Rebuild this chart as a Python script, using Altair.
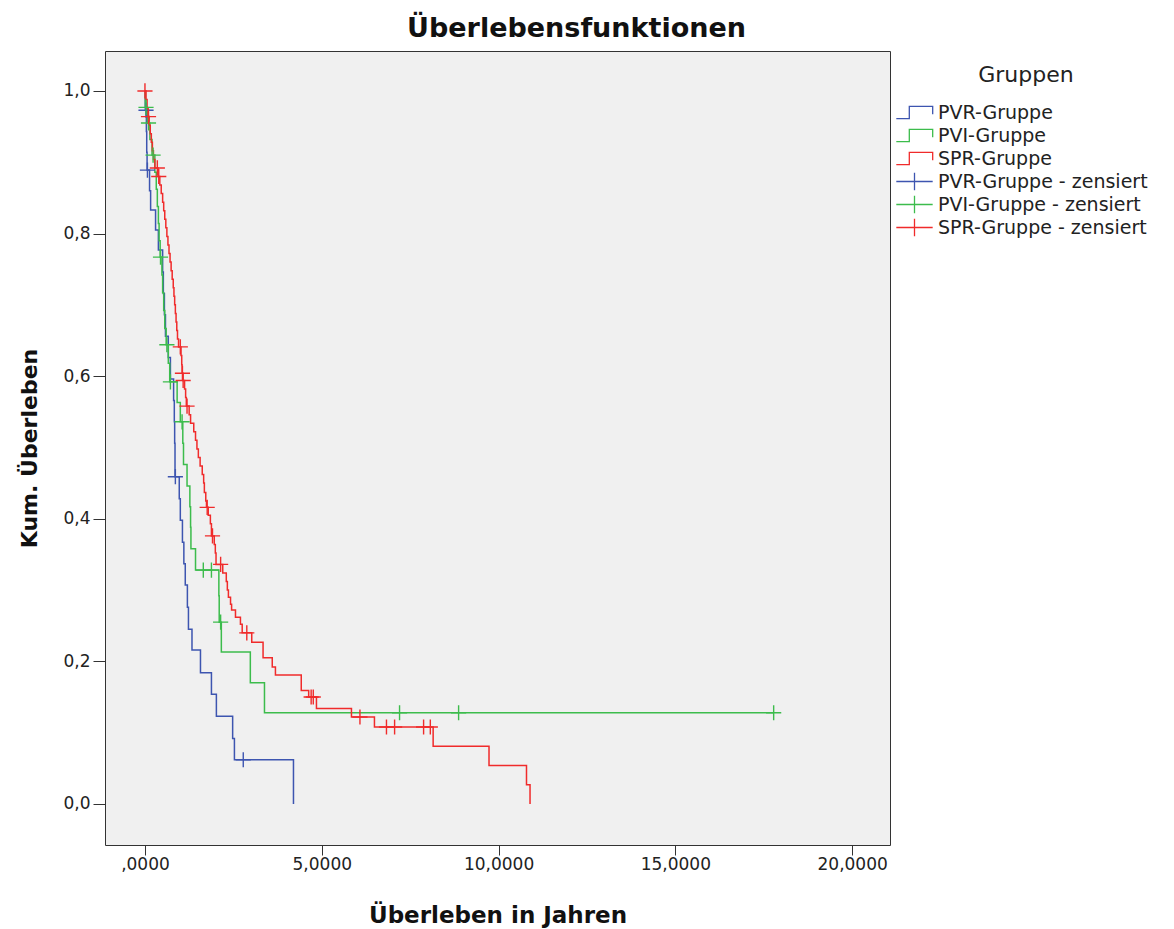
import altair as alt
import pandas as pd

groups = ["PVR-Gruppe", "PVI-Gruppe", "SPR-Gruppe"]
cens_names = ["PVR-Gruppe - zensiert", "PVI-Gruppe - zensiert", "SPR-Gruppe - zensiert"]
colors = ["#3d55b0", "#3cbc4c", "#f02b2b"]

# Kaplan-Meier step curves (time in years, cumulative survival after each drop)
pvr_t = [0.00, 0.01, 0.04, 0.05, 0.06, 0.13, 0.16, 0.30, 0.38, 0.50, 0.52, 0.55, 0.58, 0.66, 0.72,
         0.81, 0.83, 0.84, 0.85, 0.97, 1.00, 1.06, 1.10, 1.14, 1.20, 1.23, 1.33, 1.57, 1.88, 2.02,
         2.48, 2.53, 4.20]
pvr_s = [1.000, 0.973, 0.943, 0.914, 0.889, 0.860, 0.833, 0.805, 0.777, 0.746, 0.716, 0.686, 0.656,
         0.626, 0.596, 0.566, 0.536, 0.506, 0.459, 0.428, 0.398, 0.367, 0.337, 0.307, 0.276, 0.245,
         0.216, 0.184, 0.154, 0.123, 0.092, 0.062, 0.000]
pvr_ct = [0.03, 0.07, 0.86, 2.78]
pvr_cs = [0.973, 0.889, 0.459, 0.062]

pvi_t = [0.00, 0.01, 0.07, 0.14, 0.20, 0.28, 0.32, 0.35, 0.38, 0.40, 0.43, 0.48, 0.50, 0.53, 0.56,
         0.60, 0.66, 0.70, 0.91, 1.00, 1.07, 1.09, 1.19, 1.27, 1.29, 1.30, 1.43, 2.09, 2.10, 2.16,
         2.98, 3.38, 17.78]
pvi_s = [1.000, 0.977, 0.955, 0.932, 0.910, 0.886, 0.862, 0.838, 0.814, 0.790, 0.767, 0.742, 0.717,
         0.692, 0.667, 0.644, 0.618, 0.592, 0.563, 0.536, 0.506, 0.476, 0.446, 0.417, 0.388, 0.358,
         0.328, 0.292, 0.255, 0.213, 0.170, 0.128, 0.128]
pvi_ct = [0.03, 0.10, 0.23, 0.44, 0.62, 0.72, 1.05, 1.65, 1.88, 2.14, 7.20, 8.87, 17.78]
pvi_cs = [0.977, 0.955, 0.910, 0.767, 0.644, 0.592, 0.536, 0.328, 0.328, 0.255, 0.128, 0.128, 0.128]

spr_t = [0.00, 0.03, 0.06, 0.09, 0.12, 0.15, 0.18, 0.21, 0.24, 0.28, 0.37, 0.42, 0.46, 0.50, 0.53,
         0.56, 0.59, 0.62, 0.65, 0.68, 0.71, 0.74, 0.77, 0.80, 0.82, 0.84, 0.86, 0.88, 0.90, 0.92,
         0.95, 1.02, 1.04, 1.05, 1.07, 1.12, 1.15, 1.17, 1.25, 1.29, 1.38, 1.43, 1.47, 1.51, 1.56,
         1.62, 1.66, 1.68, 1.72, 1.74, 1.79, 1.85, 1.88, 1.96, 1.99, 2.01, 2.20, 2.30, 2.33, 2.36,
         2.42, 2.45, 2.56, 2.70, 2.75, 3.02, 3.34, 3.60, 3.69, 4.42, 4.63, 4.85, 5.84, 6.49, 8.15,
         9.73, 10.79, 10.89]
spr_s = [1.000, 0.988, 0.976, 0.964, 0.952, 0.940, 0.928, 0.916, 0.904, 0.892, 0.880, 0.868, 0.856,
         0.844, 0.832, 0.820, 0.808, 0.796, 0.784, 0.772, 0.760, 0.748, 0.736, 0.724, 0.712, 0.700,
         0.688, 0.676, 0.664, 0.652, 0.641, 0.629, 0.616, 0.604, 0.594, 0.582, 0.570, 0.558, 0.546,
         0.534, 0.522, 0.510, 0.498, 0.486, 0.474, 0.462, 0.450, 0.437, 0.425, 0.416, 0.405, 0.393,
         0.376, 0.364, 0.352, 0.336, 0.324, 0.312, 0.300, 0.290, 0.280, 0.272, 0.262, 0.252, 0.240,
         0.227, 0.205, 0.192, 0.181, 0.159, 0.150, 0.134, 0.122, 0.108, 0.081, 0.054, 0.027, 0.000]
spr_ct = [0.00, 0.10, 0.35, 0.39, 1.00, 1.06, 1.08, 1.19, 1.76, 1.91, 2.14, 2.88, 4.70, 4.76, 6.08,
          6.83, 7.06, 7.88, 8.07]
spr_cs = [1.000, 0.964, 0.892, 0.880, 0.641, 0.604, 0.594, 0.558, 0.416, 0.376, 0.336, 0.240, 0.150,
          0.150, 0.122, 0.108, 0.108, 0.108, 0.108]

x_ticks = [0, 5, 10, 15, 20]
y_ticks = [0.0, 0.2, 0.4, 0.6, 0.8, 1.0]

curves = [(pvr_t, pvr_s), (pvi_t, pvi_s), (spr_t, spr_s)]
cens = [(pvr_ct, pvr_cs), (pvi_ct, pvi_cs), (spr_ct, spr_cs)]

line_rows = []
for g, (ts, ss) in zip(groups, curves):
    for i, (t, s) in enumerate(zip(ts, ss)):
        line_rows.append({"t": t, "s": s, "grp": g, "i": i})
line_df = pd.DataFrame(line_rows)

cens_rows = []
for g, (ts, ss) in zip(cens_names, cens):
    for t, s in zip(ts, ss):
        cens_rows.append({"t": t, "s": s, "grp": g})
cens_df = pd.DataFrame(cens_rows)

domain = groups + cens_names
rng = colors + colors
# legend glyphs: step line and censor cross (degenerate segments keep row heights equal)
step_glyph = "M-2.1,0.7H-0.6V-0.7H2.1V0.2M2.1,-1.0L2.1,-1.0M2.1,1.0L2.1,1.0"
plus_glyph = "M-2.1,0H2.1M0,-1.0V1.0"
shape_rng = [step_glyph] * 3 + [plus_glyph] * 3

x_scale = alt.Scale(domain=[-1.13, 21.07], nice=False, zero=False)
y_scale = alt.Scale(domain=[-0.0575, 1.056], nice=False, zero=False)
c_scale = alt.Scale(domain=domain, range=rng)

x_axis = alt.Axis(title="Überleben in Jahren", values=x_ticks, grid=False, domain=False,
                  labelExpr="datum.value == 0 ? ',0000' : replace(format(datum.value, '.4f'), '.', ',')",
                  tickSize=10, tickColor="#333", labelFontSize=17, labelPadding=1,
                  labelFont="DejaVu Sans", titleFont="DejaVu Sans",
                  titleFontSize=23, titleFontWeight="bold", titlePadding=32, labelColor="#222",
                  titleColor="#111")
y_axis = alt.Axis(title="Kum. Überleben", values=y_ticks, grid=False, domain=False,
                  labelExpr="replace(format(datum.value, '.1f'), '.', ',')",
                  tickSize=12, tickColor="#333", labelFontSize=17, labelPadding=3,
                  labelFont="DejaVu Sans", titleFont="DejaVu Sans",
                  titleFontSize=22, titleFontWeight="bold", titleX=-64, labelColor="#222",
                  titleColor="#111")

legend = alt.Legend(title="Gruppen", orient="none", legendX=800, legendY=14,
                    symbolOpacity=1, symbolSize=300,
                    labelFontSize=19, titleFontSize=22, titleFontWeight="normal", labelLimit=400,
                    titleAnchor="middle", labelOffset=14, rowPadding=0, titlePadding=16,
                    labelColor="#222", titleColor="#222", symbolStrokeWidth=1.3,
                    symbolFillColor="transparent", labelFont="DejaVu Sans", titleFont="DejaVu Sans")

lines = alt.Chart(line_df).mark_line(interpolate="step-after", strokeWidth=1.5).encode(
    x=alt.X("t:Q", scale=x_scale, axis=x_axis),
    y=alt.Y("s:Q", scale=y_scale, axis=y_axis),
    color=alt.Color("grp:N", scale=c_scale, legend=None),
    order="i:Q",
)

points = alt.Chart(cens_df).mark_point(shape="M-1,0H1M0,-1V1", size=230, filled=False,
                                       strokeWidth=1.4, opacity=1).encode(
    x=alt.X("t:Q", scale=x_scale),
    y=alt.Y("s:Q", scale=y_scale),
    color=alt.Color("grp:N", scale=c_scale, legend=None),
)

legend_layer = alt.Chart(cens_df).mark_point(size=300, filled=False, opacity=0,
                                             strokeWidth=1.3).encode(
    x=alt.X("t:Q", scale=x_scale),
    y=alt.Y("s:Q", scale=y_scale),
    color=alt.Color("grp:N", scale=c_scale, legend=legend),
    shape=alt.Shape("grp:N", scale=alt.Scale(domain=domain, range=shape_rng), legend=legend),
)

chart = alt.layer(lines, points, legend_layer).resolve_legend(
    color="independent", shape="independent"
).properties(
    width=785, height=794,
    title=alt.TitleParams("Überlebensfunktionen", fontSize=27, fontWeight="bold", anchor="middle",
                          font="DejaVu Sans", frame="group", dx=79, offset=8, color="#111"),
    padding={"left": 10, "top": 7, "right": 0, "bottom": 5},
).configure(font="DejaVu Sans").configure_view(
    fill="#f0f0f0", stroke="#333", strokeWidth=1
)

chart.save("out.html", embed_options={"renderer": "svg", "actions": False})
